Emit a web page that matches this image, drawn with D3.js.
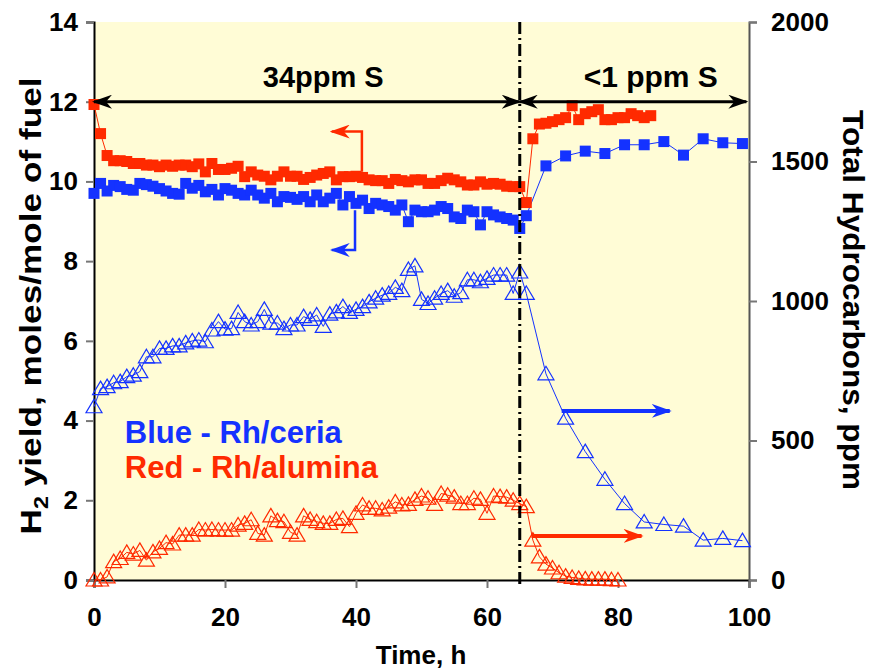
<!DOCTYPE html>
<html>
<head>
<meta charset="utf-8">
<script src="https://cdn.jsdelivr.net/npm/d3@7"></script>
<style>
  body { margin: 0; background: #fff; }
  svg text { font-family: "Liberation Sans", Arial, sans-serif; font-weight: bold; }
</style>
</head>
<body>
<svg id="chart" width="875" height="671"></svg>
<script>
// H2 yield, Rh/alumina (red squares), hours
var redSqTime = [0,1,2,3,4,5,6,7,8,9,10,11,12,13,14,15,16,17,18,19,20,21,22,23,24,25,26,27,28,29,30,31,32,33,34,35,36,37,38,39,40,41,42,43,44,45,46,47,48,49,50,51,52,53,54,55,56,57,58,59,60,61,62,63,64,65,66,67,68,69,70,71,72,73,74,75,76,77,78,79,80,81,82,83,84,85];
var redSqVal = [11.93,11.20,10.65,10.52,10.52,10.50,10.45,10.45,10.41,10.41,10.37,10.41,10.38,10.41,10.41,10.37,10.44,10.24,10.45,10.30,10.30,10.33,10.38,10.12,10.24,10.16,10.13,10.04,10.13,10.24,10.13,10.13,10.05,10.10,10.16,10.20,10.24,10.04,10.12,10.12,10.13,10.10,10.04,10.02,10.02,9.95,10.05,10.02,9.99,10.04,10.04,9.95,9.95,10.02,10.08,10.04,9.99,9.91,9.91,9.99,9.93,9.95,9.93,9.88,9.87,9.87,9.47,11.07,11.44,11.46,11.50,11.55,11.60,11.90,11.55,11.70,11.75,11.80,11.55,11.55,11.60,11.60,11.70,11.65,11.60,11.65];

// H2 yield, Rh/ceria (blue squares)
var blueSqTime = [0,1,2,3,4,5,6,7,8,9,10,11,12,13,14,15,16,17,18,19,20,21,22,23,24,25,26,27,28,29,30,31,32,33,34,35,36,37,38,39,40,41,42,43,44,45,46,47,48,49,50,51,52,53,54,55,56,57,58,59,60,61,62,63,64,65,66,69,72,75,78,81,84,87,90,93,96,99];
var blueSqVal = [9.70,9.95,9.76,9.90,9.87,9.80,9.78,9.95,9.92,9.88,9.82,9.76,9.70,9.68,9.95,9.83,9.90,9.74,9.80,9.66,9.82,9.78,9.70,9.66,9.78,9.66,9.58,9.70,9.49,9.62,9.60,9.55,9.62,9.49,9.66,9.49,9.58,9.70,9.41,9.62,9.45,9.53,9.32,9.45,9.41,9.37,9.28,9.41,8.99,9.28,9.24,9.24,9.28,9.37,9.32,9.11,9.07,9.28,9.24,8.91,9.24,9.16,9.11,9.07,9.03,8.82,9.14,10.39,10.64,10.76,10.70,10.92,10.92,11.00,10.66,11.07,10.97,10.95];

// total hydrocarbons ppm, Rh/ceria (blue triangles)
var blueTriTime = [0,1,2,3,4,5,6,7,8,9,10,11,12,13,14,15,16,17,18,19,20,21,22,23,24,25,26,27,28,29,30,31,32,33,34,35,36,37,38,39,40,41,42,43,44,45,46,47,48,49,50,51,52,53,54,55,56,57,58,59,60,61,62,63,64,65,66,69,72,75,78,81,84,87,90,93,96,99];
var blueTriVal = [621,686,693,707,711,729,734,747,800,800,830,830,839,839,850,857,860,854,896,926,899,901,959,926,914,926,970,921,921,901,914,914,944,934,950,909,953,961,980,959,970,980,997,1010,1021,1027,1049,1037,1113,1126,1006,991,1010,1027,1037,1017,1030,1076,1076,1069,1081,1093,1093,1093,1027,1104,1027,739,580,460,361,274,208,199,193,143,149,141];

// total hydrocarbons ppm, Rh/alumina (red triangles)
var redTriTime = [0,1,2,3,4,5,6,7,8,9,10,11,12,13,14,15,16,17,18,19,20,21,22,23,24,25,26,27,28,29,30,31,32,33,34,35,36,37,38,39,40,41,42,43,44,45,46,47,48,49,50,51,52,53,54,55,56,57,58,59,60,61,62,63,64,65,66,67,68,69,70,71,72,73,74,75,76,77,78,79,80];
var redTriVal = [0,0,11,66,77,99,93,106,71,101,113,134,129,161,161,161,181,179,181,179,179,179,197,203,216,167,161,230,213,209,171,161,230,217,209,203,203,217,221,191,239,269,257,257,251,261,280,269,271,289,301,293,271,310,304,297,274,274,293,289,239,301,299,297,286,274,263,143,83,57,43,26,14,9,6,4,3,3,3,1,0];

var xTicks = [0,20,40,60,80,100];
var yLeftTicks = [0,2,4,6,8,10,12,14];
var yRightTicks = [0,500,1000,1500,2000];

var RED = "#ff2a00", BLUE = "#1432ff";

var svg = d3.select("#chart");
var plotL = 94, plotR = 749, plotT = 22, plotB = 580;

var x = d3.scaleLinear().domain([0, 100]).range([plotL, plotR]);
var yL = d3.scaleLinear().domain([0, 14]).range([plotB, plotT]);
var yR = d3.scaleLinear().domain([0, 2000]).range([plotB, plotT]);

// plot background
svg.append("rect").attr("x", plotL).attr("y", plotT)
  .attr("width", plotR - plotL).attr("height", plotB - plotT)
  .attr("fill", "#fffcd6");

// arrow heads
var defs = svg.append("defs");
function arrowHead(id, color) {
  defs.append("marker").attr("id", id)
    .attr("viewBox", "0 0 20 14").attr("refX", 18).attr("refY", 7)
    .attr("markerWidth", 20).attr("markerHeight", 14)
    .attr("markerUnits", "userSpaceOnUse").attr("orient", "auto-start-reverse")
    .append("path").attr("d", "M0,0 L20,7 L0,14 L6,7 Z").attr("fill", color);
}
arrowHead("ahBlack", "#000");
arrowHead("ahRed", RED);
arrowHead("ahBlue", BLUE);

// axes
var gx = svg.append("g").attr("transform", "translate(0," + plotB + ")")
  .call(d3.axisBottom(x).tickValues(xTicks).tickSize(8).tickPadding(20).tickFormat(d3.format("d")));
var gl = svg.append("g").attr("transform", "translate(" + plotL + ",0)")
  .call(d3.axisLeft(yL).tickValues(yLeftTicks).tickSize(8).tickPadding(8));
var gr = svg.append("g").attr("transform", "translate(" + plotR + ",0)")
  .call(d3.axisRight(yR).tickValues(yRightTicks).tickSize(8).tickPadding(14).tickFormat(d3.format("d")));

[gx, gl, gr].forEach(function (g) {
  g.select(".domain").attr("stroke", "#000").attr("stroke-width", 2);
  g.selectAll(".tick line").attr("stroke", "#777").attr("stroke-width", 2);
  g.selectAll(".tick text").attr("fill", "#000").style("font-size", "26px");
});
gr.select(".domain").attr("stroke", "#555");

// series
function drawSquares(time, vals, color) {
  var pts = time.map(function (t, i) { return [t, vals[i]]; });
  svg.append("path").datum(pts)
    .attr("fill", "none").attr("stroke", color).attr("stroke-width", 1)
    .attr("d", d3.line().x(function (d) { return x(d[0]); }).y(function (d) { return yL(d[1]); }));
  svg.append("g").selectAll("rect").data(pts).join("rect")
    .attr("x", function (d) { return x(d[0]) - 5.5; })
    .attr("y", function (d) { return yL(d[1]) - 5.5; })
    .attr("width", 11).attr("height", 11).attr("fill", color);
}
function drawTriangles(time, vals, color) {
  var pts = time.map(function (t, i) { return [t, vals[i]]; });
  svg.append("path").datum(pts)
    .attr("fill", "none").attr("stroke", color).attr("stroke-width", 1)
    .attr("d", d3.line().x(function (d) { return x(d[0]); }).y(function (d) { return yR(d[1]); }));
  svg.append("g").selectAll("path").data(pts).join("path")
    .attr("d", "M0,-7.5 L8,6 L-8,6 Z")
    .attr("transform", function (d) { return "translate(" + x(d[0]) + "," + yR(d[1]) + ")"; })
    .attr("fill", "none").attr("stroke", color).attr("stroke-width", 1.2);
}
drawTriangles(redTriTime, redTriVal, RED);
drawTriangles(blueTriTime, blueTriVal, BLUE);
drawSquares(blueSqTime, blueSqVal, BLUE);
drawSquares(redSqTime, redSqVal, RED);

// sulfur switch line
svg.append("line").attr("x1", x(65)).attr("x2", x(65)).attr("y1", plotT).attr("y2", plotB + 6)
  .attr("stroke", "#000").attr("stroke-width", 3).attr("stroke-dasharray", "12,4,2,4");

// sulfur level arrows
function hArrow(x1, x2, y, color, id, both, w) {
  var l = svg.append("line").attr("x1", x1).attr("x2", x2).attr("y1", y).attr("y2", y)
    .attr("stroke", color).attr("stroke-width", w).attr("marker-end", "url(#" + id + ")");
  if (both) l.attr("marker-start", "url(#" + id + ")");
}
hArrow(x(0), x(65), yL(12), "#000", "ahBlack", true, 3);
hArrow(x(65), x(99.6), yL(12), "#000", "ahBlack", true, 3);
svg.append("text").attr("x", x(35)).attr("y", yL(12.38)).attr("text-anchor", "middle")
  .style("font-size", "29px").text("34ppm S");
svg.append("text").attr("x", x(85)).attr("y", yL(12.38)).attr("text-anchor", "middle")
  .style("font-size", "30px").text("<1 ppm S");

// axis pointers
svg.append("path").attr("d", "M" + x(40.9) + "," + yL(10.24) + " V" + yL(11.25) + " H" + x(36.3))
  .attr("fill", "none").attr("stroke", RED).attr("stroke-width", 2.5).attr("marker-end", "url(#ahRed)");
svg.append("path").attr("d", "M" + x(39.85) + "," + yL(9.28) + " V" + yL(8.28) + " H" + x(36.3))
  .attr("fill", "none").attr("stroke", BLUE).attr("stroke-width", 2.5).attr("marker-end", "url(#ahBlue)");
hArrow(x(71.4), x(87.9), yR(606), BLUE, "ahBlue", false, 4);
hArrow(x(66.8), x(83.6), yR(158), RED, "ahRed", false, 4);

// legend text
svg.append("text").attr("x", x(4.7)).attr("y", yL(3.44)).attr("fill", BLUE)
  .style("font-size", "31px").text("Blue - Rh/ceria");
svg.append("text").attr("x", x(4.7)).attr("y", yL(2.56)).attr("fill", RED)
  .style("font-size", "31px").text("Red - Rh/alumina");

// axis titles
var lt = svg.append("text").attr("transform", "translate(41,306) rotate(-90)")
  .attr("text-anchor", "middle").style("font-size", "30px")
  .attr("textLength", 457).attr("lengthAdjust", "spacingAndGlyphs");
lt.append("tspan").text("H");
lt.append("tspan").attr("dy", 7).style("font-size", "20px").text("2");
lt.append("tspan").attr("dy", -7).text(" yield, moles/mole of fuel");

svg.append("text").attr("transform", "translate(843,300) rotate(90)")
  .attr("text-anchor", "middle").style("font-size", "30px")
  .attr("textLength", 380).attr("lengthAdjust", "spacingAndGlyphs")
  .text("Total Hydrocarbons, ppm");

svg.append("text").attr("x", 421).attr("y", 664).attr("text-anchor", "middle")
  .style("font-size", "26px").text("Time, h");
</script>
</body>
</html>
